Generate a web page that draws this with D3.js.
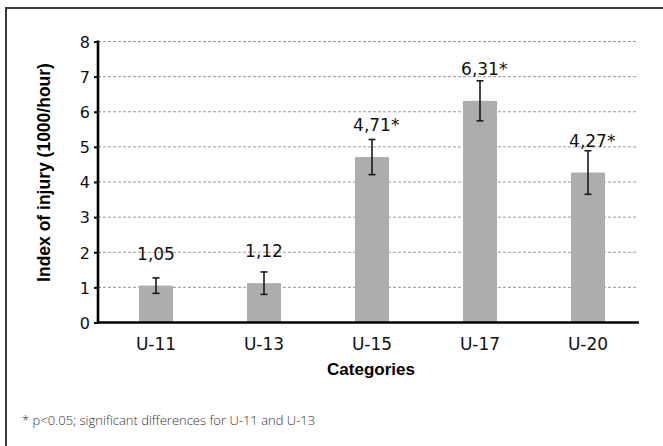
<!DOCTYPE html>
<html>
<head>
<meta charset="utf-8">
<script src="https://cdn.jsdelivr.net/npm/d3@7"></script>
<style>
  html, body { margin: 0; padding: 0; background: #fff; }
  svg { display: block; }
</style>
</head>
<body>
<svg id="chart" width="663" height="446"></svg>
<script>
// Injury index by age category, mean ± SD
const categories = ["U-11", "U-13", "U-15", "U-17", "U-20"];
const values = [1.05, 1.12, 4.71, 6.31, 4.27];
const errors = [0.22, 0.32, 0.50, 0.57, 0.62];
const significant = [false, false, true, true, true];
const yTicks = [0, 1, 2, 3, 4, 5, 6, 7, 8];

const svg = d3.select("#chart");
const W = 663, H = 446;

// outer frame (top and left edges visible)
svg.append("path")
  .attr("d", `M6,${H + 5} L6,8 L${W + 5},8`)
  .attr("fill", "none")
  .attr("stroke", "#3a3a3a")
  .attr("stroke-width", 2);

const axisX = 98, plotRight = 639;
const x = d3.scaleBand()
  .domain(categories)
  .range([102, 642])
  .paddingInner(0.685)
  .paddingOuter(0.3425);
const y = d3.scaleLinear().domain([0, 8]).range([322.5, 41.5]);

// dashed gridlines
svg.append("g")
  .selectAll("line")
  .data(yTicks.filter(d => d > 0))
  .join("line")
  .attr("x1", axisX).attr("x2", plotRight - 1)
  .attr("y1", d => y(d)).attr("y2", d => y(d))
  .attr("stroke", "#9a9a9a")
  .attr("stroke-width", 1)
  .attr("stroke-dasharray", "3,2");

// bars
svg.append("g")
  .selectAll("rect")
  .data(categories)
  .join("rect")
  .attr("x", d => x(d))
  .attr("width", x.bandwidth())
  .attr("y", (d, i) => y(values[i]))
  .attr("height", (d, i) => y(0) - y(values[i]))
  .attr("fill", "#adadad");

// error bars
const eg = svg.append("g").attr("stroke", "#1a1a1a").attr("stroke-width", 1.6);
categories.forEach((c, i) => {
  const cx = x(c) + x.bandwidth() / 2;
  const lo = y(values[i] - errors[i]), hi = y(values[i] + errors[i]);
  eg.append("line").attr("x1", cx).attr("x2", cx).attr("y1", lo).attr("y2", hi);
  eg.append("line").attr("x1", cx - 3.5).attr("x2", cx + 3.5).attr("y1", lo).attr("y2", lo);
  eg.append("line").attr("x1", cx - 3.5).attr("x2", cx + 3.5).attr("y1", hi).attr("y2", hi);
});

// value labels: number centered over the bar, asterisk appended when significant
const fmt = v => v.toFixed(2).replace(".", ",");
const lg = svg.append("g")
  .attr("font-family", "'DejaVu Sans', sans-serif")
  .attr("font-size", 17)
  .attr("fill", "#111");
categories.forEach((c, i) => {
  const cx = x(c) + x.bandwidth() / 2;
  const ty = y(values[i]) - 26;
  const t = lg.append("text")
    .attr("x", cx).attr("y", ty)
    .attr("text-anchor", "middle")
    .text(fmt(values[i]));
  if (significant[i]) {
    const w = t.node().getComputedTextLength();
    lg.append("text")
      .attr("x", cx + w / 2).attr("y", ty)
      .text("*");
  }
});

// y axis
const yAxis = svg.append("g")
  .attr("transform", `translate(${axisX},0)`)
  .call(d3.axisLeft(y).tickValues(yTicks).tickSize(4).tickPadding(4).tickFormat(d3.format("d")));
yAxis.select(".domain").remove();
yAxis.selectAll(".tick line").attr("stroke", "#000").attr("stroke-width", 2);
yAxis.selectAll(".tick text")
  .attr("font-family", "'DejaVu Sans', sans-serif")
  .attr("font-size", 16)
  .attr("fill", "#111")
  .attr("dy", "0.36em");
svg.append("line")
  .attr("x1", axisX).attr("x2", axisX)
  .attr("y1", y(8) - 1).attr("y2", y(0) + 1.5)
  .attr("stroke", "#000").attr("stroke-width", 2.6);

// x axis baseline and category labels
svg.append("line")
  .attr("x1", axisX - 1).attr("x2", plotRight)
  .attr("y1", y(0)).attr("y2", y(0))
  .attr("stroke", "#000").attr("stroke-width", 2.6);
svg.append("g")
  .selectAll("text")
  .data(categories)
  .join("text")
  .attr("x", d => x(d) + x.bandwidth() / 2)
  .attr("y", y(0) + 27.5)
  .attr("text-anchor", "middle")
  .attr("font-family", "'DejaVu Sans', sans-serif")
  .attr("font-size", 17)
  .attr("fill", "#111")
  .text(d => d);

// axis titles
svg.append("text")
  .attr("x", 371).attr("y", 375)
  .attr("text-anchor", "middle")
  .attr("font-family", "'Liberation Sans', Arial, sans-serif")
  .attr("font-weight", "bold")
  .attr("font-size", 17)
  .attr("fill", "#000")
  .text("Categories");
svg.append("text")
  .attr("transform", "translate(49.5,172.5) rotate(-90)")
  .attr("text-anchor", "middle")
  .attr("font-family", "'Liberation Sans', Arial, sans-serif")
  .attr("font-weight", "bold")
  .attr("font-size", 17.5)
  .attr("fill", "#000")
  .text("Index of injury (1000/hour)");

// footnote
svg.append("text")
  .attr("x", 22).attr("y", 425)
  .attr("font-family", "'Open Sans', sans-serif")
  .attr("font-weight", 300)
  .attr("font-size", 13)
  .attr("fill", "#333")
  .text("* p<0.05; significant differences for U-11 and U-13");
</script>
</body>
</html>
